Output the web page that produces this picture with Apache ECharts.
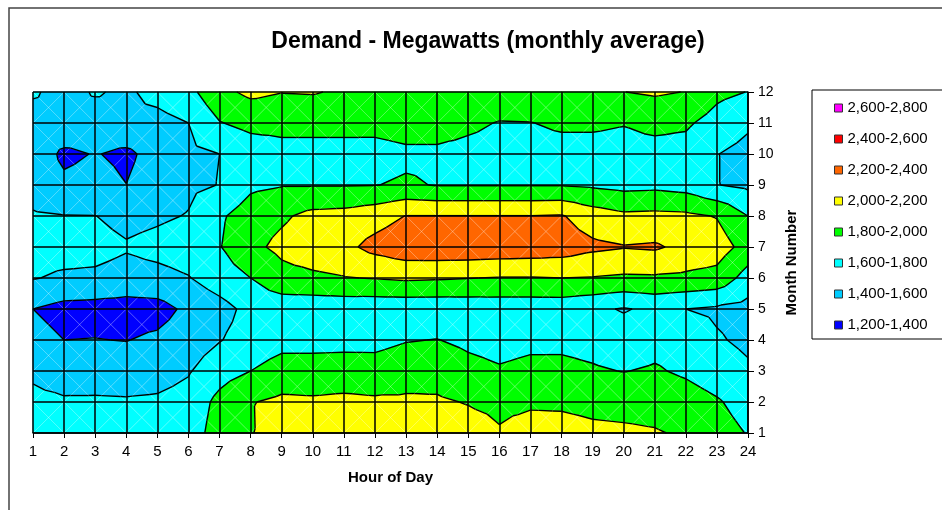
<!DOCTYPE html>
<html><head><meta charset="utf-8">
<script src="https://cdn.jsdelivr.net/npm/echarts@6/dist/echarts.min.js"></script>
<style>html,body{margin:0;padding:0;background:#fff}#chart{width:942px;height:510px}</style>
</head><body><div id="chart"></div>
<script>
const FONT = '"Liberation Sans", Arial, sans-serif';
const hours = [1,2,3,4,5,6,7,8,9,10,11,12,13,14,15,16,17,18,19,20,21,22,23,24];
const months = [1,2,3,4,5,6,7,8,9,10,11,12];
// demand (MW) per month, hours 1..24
const month1  = [1700,1710,1710,1710,1710,1700,1890,1988,2100,2110,2130,2120,2120,2110,2080,2015,2070,2070,2040,2030,2015,1975,1880,1790];
const month2  = [1650,1625,1625,1620,1630,1670,1855,1990,2040,2030,2045,2030,2030,2025,1990,1960,1975,1970,1950,1940,1930,1890,1820,1720];
const month3  = [1565,1500,1510,1500,1520,1584,1720,1800,1880,1880,1885,1880,1920,1925,1860,1820,1850,1845,1820,1795,1820,1770,1700,1630];
const month4  = [1460,1400,1405,1395,1433,1500,1590,1680,1740,1740,1745,1745,1790,1805,1760,1730,1755,1760,1740,1700,1740,1720,1620,1560];
const month5  = [1400,1340,1330,1320,1330,1440,1530,1657,1680,1670,1670,1660,1660,1660,1670,1680,1680,1680,1640,1585,1640,1600,1570,1530];
const month6  = [1610,1570,1560,1520,1540,1590,1700,1800,1930,1960,1990,2010,2030,2020,2005,1990,1990,2000,1990,1970,1975,1960,1930,1720];
const month7  = [1680,1680,1670,1620,1660,1700,1790,1950,2050,2120,2150,2260,2330,2340,2340,2330,2320,2300,2240,2210,2225,2150,2100,1920];
const month8  = [1620,1605,1603,1540,1570,1610,1770,1900,1970,2055,2070,2120,2205,2205,2205,2205,2205,2215,2100,2040,2050,2040,1990,1800];
const month9  = [1520,1440,1470,1402,1500,1560,1605,1760,1790,1790,1790,1795,1825,1790,1790,1790,1790,1790,1770,1740,1750,1720,1605,1560];
const month10 = [1530,1360,1410,1360,1475,1560,1600,1680,1720,1720,1720,1730,1760,1760,1740,1720,1720,1730,1730,1720,1730,1720,1605,1540];
const month11 = [1530,1560,1520,1560,1540,1600,1790,1860,1870,1870,1870,1860,1890,1890,1840,1790,1795,1830,1830,1810,1850,1830,1720,1630];
const month12 = [1620,1540,1615,1570,1660,1740,1950,2040,2005,2012,1975,1960,1950,1950,1960,1940,1950,1960,1960,1998,2025,1995,1850,1795];
const demand = [month1,month2,month3,month4,month5,month6,month7,month8,month9,month10,month11,month12];

const bandLows  = [1200,1400,1600,1800,2000,2200,2400,2600];
const bandHighs = [1400,1600,1800,2000,2200,2400,2600,2800];
const bandLabels = ['1,200-1,400','1,400-1,600','1,600-1,800','1,800-2,000','2,000-2,200','2,200-2,400','2,400-2,600','2,600-2,800'];
const bandColors = ['#0000FF','#00CCFF','#00FFFF','#00FF00','#FFFF00','#FF6600','#FF0000','#FF00FF'];

const cells = [];
for (let j = 0; j < months.length - 1; j++)
  for (let i = 0; i < hours.length - 1; i++) cells.push([hours[i], months[j], i, j]);

function cellTriangles(i, j) {
  const x0 = hours[i], x1 = hours[i+1], y0 = months[j], y1 = months[j+1];
  const a = [x0, y0, demand[j][i]], b = [x1, y0, demand[j][i+1]];
  const c = [x1, y1, demand[j+1][i+1]], d = [x0, y1, demand[j+1][i]];
  const m = [(x0+x1)/2, (y0+y1)/2, (a[2]+b[2]+c[2]+d[2])/4];
  return [[a,b,m],[b,c,m],[c,d,m],[d,a,m]];
}
function lerp(p, q, lv) {
  const t = (lv - p[2]) / (q[2] - p[2]);
  return [p[0] + t*(q[0]-p[0]), p[1] + t*(q[1]-p[1]), lv];
}
function clipPoly(poly, lv, keepAbove) {
  const out = [];
  for (let k = 0; k < poly.length; k++) {
    const p = poly[k], q = poly[(k+1) % poly.length];
    const pin = keepAbove ? p[2] >= lv : p[2] <= lv;
    const qin = keepAbove ? q[2] >= lv : q[2] <= lv;
    if (pin) out.push(p);
    if (pin !== qin) out.push(lerp(p, q, lv));
  }
  return out;
}
function bandRenderer(b) {
  return function (params, api) {
    const i = api.value(2), j = api.value(3);
    const children = [];
    for (const tri of cellTriangles(i, j)) {
      let poly = clipPoly(tri, bandLows[b], true);
      if (poly.length >= 3) poly = clipPoly(poly, bandHighs[b], false);
      if (poly.length >= 3) {
        children.push({type: 'polygon', shape: {points: poly.map(p => api.coord([p[0], p[1]]))},
          style: {fill: bandColors[b], stroke: bandColors[b], lineWidth: 0.8}});
      }
    }
    return {type: 'group', children};
  };
}
const levels = bandLows.slice(1);
function contourRenderer(params, api) {
  const i = api.value(2), j = api.value(3);
  const children = [];
  const p00 = api.coord([hours[i], months[j]]), p11 = api.coord([hours[i+1], months[j+1]]);
  const p10 = api.coord([hours[i+1], months[j]]), p01 = api.coord([hours[i], months[j+1]]);
  const diag = {stroke: 'rgba(255,255,255,0.45)', lineWidth: 0.7};
  children.push({type: 'line', shape: {x1: p00[0], y1: p00[1], x2: p11[0], y2: p11[1]}, style: diag});
  children.push({type: 'line', shape: {x1: p10[0], y1: p10[1], x2: p01[0], y2: p01[1]}, style: diag});
  for (const tri of cellTriangles(i, j)) {
    for (const lv of levels) {
      const pts = [];
      for (let k = 0; k < 3; k++) {
        const p = tri[k], q = tri[(k+1) % 3];
        if ((p[2] >= lv) !== (q[2] >= lv)) pts.push(lerp(p, q, lv));
      }
      if (pts.length === 2) {
        const a = api.coord([pts[0][0], pts[0][1]]), b = api.coord([pts[1][0], pts[1][1]]);
        children.push({type: 'line', shape: {x1: a[0], y1: a[1], x2: b[0], y2: b[1]},
          style: {stroke: '#000', lineWidth: 1.4}});
      }
    }
  }
  return {type: 'group', children};
}

const series = bandLabels.map((name, b) => ({
  type: 'custom', name, data: cells, encode: {x: 0, y: 1},
  renderItem: bandRenderer(b), itemStyle: {color: bandColors[b]}, silent: true, z: 2
}));
series.push({type: 'custom', name: 'contours', data: cells, encode: {x: 0, y: 1},
  renderItem: contourRenderer, silent: true, z: 3});

const chart = echarts.init(document.getElementById('chart'), null, {renderer: 'canvas'});
chart.setOption({
  animation: false,
  backgroundColor: '#fff',
  textStyle: {fontFamily: FONT},
  title: {text: 'Demand - Megawatts (monthly average)', left: 488, top: 30, textAlign: 'center', padding: 0,
    textStyle: {fontFamily: FONT, fontSize: 23, fontWeight: 'bold', color: '#000'}},
  grid: {left: 33, right: 194, top: 92, bottom: 77},
  legend: {
    data: bandLabels.slice().reverse(), orient: 'vertical', left: 812, top: 90,
    padding: [10, 80, 6, 22], itemGap: 15, itemWidth: 8, itemHeight: 8, icon: 'rect',
    borderColor: '#000', borderWidth: 1, selectedMode: false,
    itemStyle: {borderColor: '#333', borderWidth: 1},
    textStyle: {fontFamily: FONT, fontSize: 15, color: '#000', lineHeight: 16}
  },
  xAxis: {
    type: 'value', min: 1, max: 24, interval: 1, z: 10,
    name: 'Hour of Day', nameLocation: 'middle', nameGap: 37,
    nameTextStyle: {fontFamily: FONT, fontWeight: 'bold', fontSize: 15, color: '#000'},
    axisLine: {show: true, lineStyle: {color: '#000', width: 1.5}},
    axisTick: {show: true, length: 5, lineStyle: {color: '#000'}},
    axisLabel: {color: '#000', fontSize: 15, margin: 11, fontFamily: FONT},
    splitLine: {show: true, lineStyle: {color: '#000', width: 1.5}}
  },
  yAxis: {
    type: 'value', min: 1, max: 12, interval: 1, position: 'right', z: 10,
    name: 'Month Number', nameLocation: 'middle', nameGap: 28, nameRotate: 90,
    nameTextStyle: {fontFamily: FONT, fontWeight: 'bold', fontSize: 15, color: '#000'},
    axisLine: {show: true, lineStyle: {color: '#000', width: 1.5}},
    axisTick: {show: true, length: 6, lineStyle: {color: '#000'}},
    axisLabel: {color: '#000', fontSize: 14, margin: 10, fontFamily: FONT},
    splitLine: {show: true, lineStyle: {color: '#000', width: 1.5}}
  },
  graphic: [{type: 'rect', shape: {x: 9, y: 8, width: 1000, height: 600}, silent: true,
    style: {fill: 'none', stroke: '#444', lineWidth: 1.5}, z: -1}],
  series
});
</script></body></html>
